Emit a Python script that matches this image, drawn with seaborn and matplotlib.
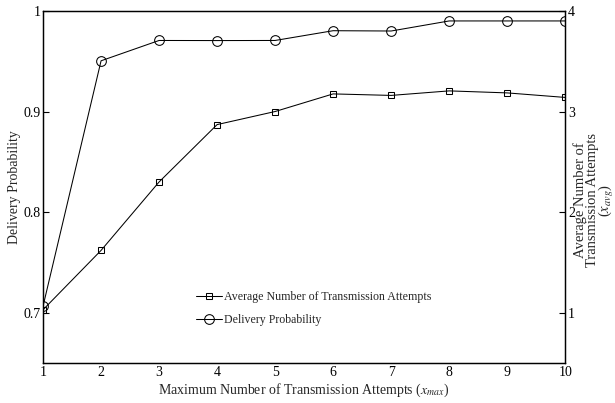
import matplotlib
matplotlib.use("Agg")
import matplotlib.pyplot as plt
import seaborn as sns
import pandas as pd
from matplotlib.lines import Line2D

x_attempts = [1, 2, 3, 4, 5, 6, 7, 8, 9, 10]
delivery_prob = [0.7066, 0.9504, 0.9706, 0.9705, 0.9706, 0.9803, 0.9800, 0.9900, 0.9900, 0.9900]
avg_attempts = [1.03, 1.62, 2.30, 2.87, 3.00, 3.175, 3.16, 3.205, 3.185, 3.14]
left_ticks = [0.7, 0.8, 0.9, 1.0]
left_ticklabels = ["0.7", "0.8", "0.9", "1"]
right_ticks = [1, 2, 3, 4]

sns.set_theme(style="white")
plt.rcParams['font.family'] = ['Liberation Serif', 'DejaVu Serif']
plt.rcParams['mathtext.fontset'] = 'stix'

df = pd.DataFrame({"x": x_attempts, "dp": delivery_prob, "avg": avg_attempts})

fig = plt.figure(figsize=(6.15, 4.03), dpi=100)
ax = fig.add_axes([0.070, 0.099, 0.849, 0.874])
ax2 = ax.twinx()

sns.lineplot(data=df, x="x", y="dp", ax=ax, color="black", lw=0.75,
             marker="o", markersize=7, markerfacecolor="none",
             markeredgecolor="black", markeredgewidth=0.75)
sns.lineplot(data=df, x="x", y="avg", ax=ax2, color="black", lw=0.75,
             marker="s", markersize=5, markerfacecolor="none",
             markeredgecolor="black", markeredgewidth=0.75)

ax.set_xlim(1, 10)
ax.set_ylim(0.65, 1.0)
ax2.set_ylim(0.5, 4.0)
ax.set_xticks(x_attempts)
ax.set_xticklabels([str(v) for v in x_attempts])
ax.set_yticks(left_ticks)
ax.set_yticklabels(left_ticklabels)
ax2.set_yticks(right_ticks)
ax2.set_yticklabels([str(v) for v in right_ticks])

for a in (ax, ax2):
    a.tick_params(direction="in", length=4, width=0.8, labelsize=10, pad=2, colors="black")
    for s in a.spines.values():
        s.set_color("black")
        s.set_linewidth(0.9)

ax.set_xlabel("Maximum Number of Transmission Attempts ($x_{max}$)", fontsize=10, labelpad=2)
ax.set_ylabel("Delivery Probability", fontsize=10)
ax.yaxis.set_label_coords(-0.043, 0.5)
ax2.set_ylabel("Average Number of\nTransmission Attempts\n($x_{avg}$)", fontsize=10.5,
               rotation=90, linespacing=0.85, multialignment="center")
ax2.yaxis.set_label_coords(1.016, 0.463)

handles = [
    Line2D([], [], color="black", lw=0.75, marker="s", markersize=5,
           markerfacecolor="none", markeredgewidth=0.75),
    Line2D([], [], color="black", lw=0.75, marker="o", markersize=7,
           markerfacecolor="none", markeredgewidth=0.75),
]
labels = ["Average Number of Transmission Attempts", "Delivery Probability"]
leg = ax.legend(handles, labels, frameon=False, fontsize=8.6, loc="upper left",
                bbox_to_anchor=(0.292, 0.205), handlelength=2.2, handletextpad=0.2,
                labelspacing=0.95, borderaxespad=0, borderpad=0)

fig.savefig("out.png", dpi=100)
